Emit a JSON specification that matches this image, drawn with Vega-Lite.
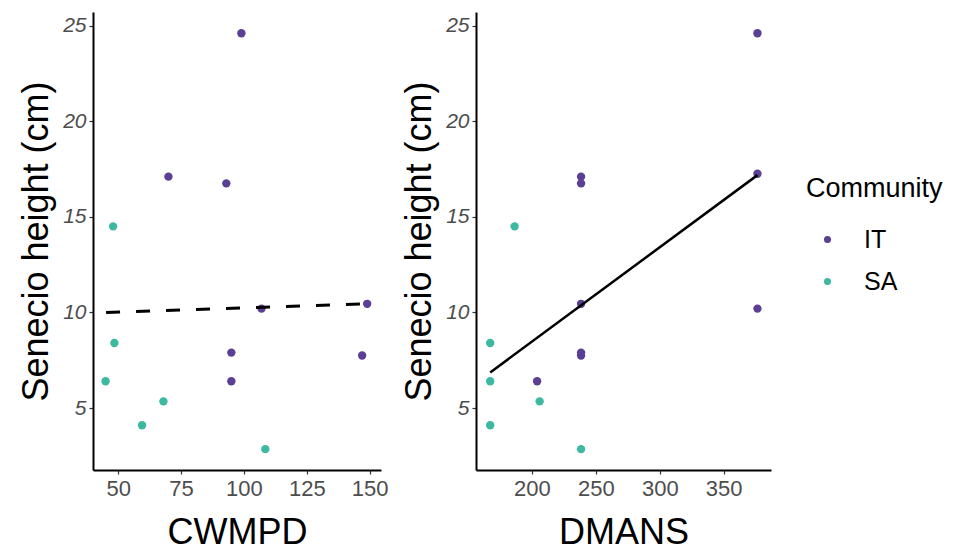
{
  "$schema": "https://vega.github.io/schema/vega-lite/v6.json",
  "padding": {"left": 18, "top": 12, "right": 5, "bottom": 0},
  "background": "white",
  "datasets": {
    "cwmpd": [
      {"CWMPD": 99, "height": 24.6, "Community": "IT"},
      {"CWMPD": 70, "height": 17.1, "Community": "IT"},
      {"CWMPD": 93, "height": 16.75, "Community": "IT"},
      {"CWMPD": 107, "height": 10.2, "Community": "IT"},
      {"CWMPD": 149, "height": 10.45, "Community": "IT"},
      {"CWMPD": 95, "height": 7.9, "Community": "IT"},
      {"CWMPD": 147, "height": 7.75, "Community": "IT"},
      {"CWMPD": 95, "height": 6.4, "Community": "IT"},
      {"CWMPD": 48, "height": 14.5, "Community": "SA"},
      {"CWMPD": 48.5, "height": 8.4, "Community": "SA"},
      {"CWMPD": 45, "height": 6.4, "Community": "SA"},
      {"CWMPD": 68, "height": 5.35, "Community": "SA"},
      {"CWMPD": 59.5, "height": 4.1, "Community": "SA"},
      {"CWMPD": 108.5, "height": 2.85, "Community": "SA"}
    ],
    "dmans": [
      {"DMANS": 376.4, "height": 24.6, "Community": "IT"},
      {"DMANS": 376.4, "height": 17.25, "Community": "IT"},
      {"DMANS": 376.4, "height": 10.2, "Community": "IT"},
      {"DMANS": 238.4, "height": 17.1, "Community": "IT"},
      {"DMANS": 238.4, "height": 16.75, "Community": "IT"},
      {"DMANS": 238.4, "height": 10.45, "Community": "IT"},
      {"DMANS": 238.4, "height": 7.9, "Community": "IT"},
      {"DMANS": 238.4, "height": 7.75, "Community": "IT"},
      {"DMANS": 204, "height": 6.4, "Community": "IT"},
      {"DMANS": 167.3, "height": 8.4, "Community": "SA"},
      {"DMANS": 167.3, "height": 6.4, "Community": "SA"},
      {"DMANS": 167.3, "height": 4.1, "Community": "SA"},
      {"DMANS": 186.4, "height": 14.5, "Community": "SA"},
      {"DMANS": 206, "height": 5.35, "Community": "SA"},
      {"DMANS": 238.4, "height": 2.85, "Community": "SA"}
    ],
    "cwmpd_fit": [
      {"CWMPD": 45.2, "height": 10.0},
      {"CWMPD": 149.3, "height": 10.45}
    ],
    "dmans_fit": [
      {"DMANS": 167.3, "height": 6.86},
      {"DMANS": 376.4, "height": 17.18}
    ]
  },
  "config": {
    "font": "Liberation Sans",
    "view": {"stroke": null},
    "axis": {
      "domainColor": "black",
      "domainWidth": 2,
      "tickColor": "#333333",
      "tickWidth": 1.2,
      "tickSize": 4,
      "grid": false,
      "labelFont": "Liberation Sans",
      "titleFont": "Liberation Sans",
      "titleFontWeight": "normal",
      "titleColor": "black",
      "labelColor": "#4d4d4d"
    },
    "axisX": {"labelFontSize": 22, "titleFontSize": 36, "labelPadding": 4, "titlePadding": 16},
    "axisY": {"labelFontSize": 21, "labelFontStyle": "italic", "titleFontSize": 36, "titlePadding": 7, "labelPadding": 3},
    "legend": {
      "titleFont": "Liberation Sans",
      "labelFont": "Liberation Sans",
      "titleFontWeight": "normal",
      "titleFontSize": 27,
      "titleColor": "black",
      "labelFontSize": 25,
      "labelColor": "black",
      "symbolSize": 50,
      "symbolType": "circle",
      "symbolOffset": 9,
      "labelOffset": 24,
      "titlePadding": 24,
      "rowPadding": 16,
      "padding": 0
    }
  },
  "spacing": 12,
  "hconcat": [
    {
      "width": 288,
      "height": 458,
      "layer": [
        {
          "data": {"name": "cwmpd"},
          "mark": {"type": "circle", "size": 70, "opacity": 1},
          "encoding": {
            "x": {"field": "CWMPD", "type": "quantitative", "title": "CWMPD",
                  "scale": {"domain": [40.0, 154.5], "nice": false, "zero": false},
                  "axis": {"values": [50, 75, 100, 125, 150]}},
            "y": {"field": "height", "type": "quantitative", "title": "Senecio height (cm)",
                  "scale": {"domain": [1.76, 25.71], "nice": false, "zero": false},
                  "axis": {"values": [5, 10, 15, 20, 25]}},
            "color": {"field": "Community", "type": "nominal",
                      "scale": {"domain": ["IT", "SA"], "range": ["#5B3F94", "#3DB9A2"]},
                      "legend": {"orient": "none", "legendX": 713, "legendY": 164, "title": "Community"}}
          }
        },
        {
          "data": {"name": "cwmpd_fit"},
          "mark": {"type": "line", "color": "black", "strokeWidth": 3, "strokeDash": [14, 16]},
          "encoding": {
            "x": {"field": "CWMPD", "type": "quantitative"},
            "y": {"field": "height", "type": "quantitative"}
          }
        }
      ]
    },
    {
      "width": 295,
      "height": 458,
      "layer": [
        {
          "data": {"name": "dmans"},
          "mark": {"type": "circle", "size": 70, "opacity": 1},
          "encoding": {
            "x": {"field": "DMANS", "type": "quantitative", "title": "DMANS",
                  "scale": {"domain": [156.2, 387.0], "nice": false, "zero": false},
                  "axis": {"values": [200, 250, 300, 350]}},
            "y": {"field": "height", "type": "quantitative", "title": "Senecio height (cm)",
                  "scale": {"domain": [1.76, 25.71], "nice": false, "zero": false},
                  "axis": {"values": [5, 10, 15, 20, 25]}},
            "color": {"field": "Community", "type": "nominal"}
          }
        },
        {
          "data": {"name": "dmans_fit"},
          "mark": {"type": "line", "color": "black", "strokeWidth": 2.5},
          "encoding": {
            "x": {"field": "DMANS", "type": "quantitative"},
            "y": {"field": "height", "type": "quantitative"}
          }
        }
      ]
    }
  ]
}
